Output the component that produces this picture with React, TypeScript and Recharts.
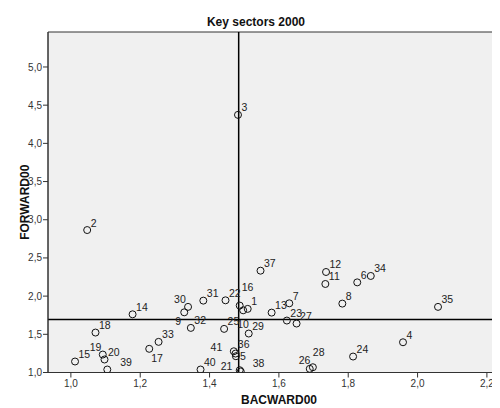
import {
  ScatterChart,
  Scatter,
  XAxis,
  YAxis,
  ReferenceLine,
  ReferenceArea,
  Label,
} from "recharts";

// sector numbers and their linkage indices
const sectors = [
  1, 2, 3, 4, 5, 6, 7, 8, 9, 10, 11, 12, 13, 14, 15, 16, 17, 18, 19, 20, 21,
  22, 23, 24, 25, 26, 27, 28, 29, 30, 31, 32, 33, 34, 35, 36, 37, 38, 39, 40, 41,
];
const backward = [
  1.51, 1.047, 1.482, 1.958, 1.476, 1.826, 1.63, 1.783, 1.327, 1.497, 1.734,
  1.736, 1.579, 1.178, 1.012, 1.487, 1.226, 1.071, 1.092, 1.097, 1.487, 1.446,
  1.623, 1.814, 1.442, 1.689, 1.651, 1.698, 1.513, 1.338, 1.382, 1.346, 1.253,
  1.865, 2.059, 1.47, 1.547, 1.49, 1.105, 1.374, 1.475,
];
const forward = [
  1.833, 2.865, 4.373, 1.396, 1.213, 2.18, 1.906, 1.902, 1.788, 1.814, 2.159,
  2.316, 1.784, 1.762, 1.144, 1.876, 1.31, 1.523, 1.235, 1.17, 1.03, 1.945,
  1.68, 1.209, 1.571, 1.048, 1.641, 1.069, 1.51, 1.859, 1.941, 1.584, 1.401,
  2.264, 1.859, 1.278, 2.333, 1.013, 1.039, 1.039, 1.248,
];
const meanBackward = 1.484;
const meanForward = 1.693;
const xTicks = [1.0, 1.2, 1.4, 1.6, 1.8, 2.0, 2.2];
const yTicks = [1.0, 1.5, 2.0, 2.5, 3.0, 3.5, 4.0, 4.5, 5.0];

const X_MIN = 0.934;
const X_MAX = 2.232;
const Y_MIN = 1.0;
const Y_MAX = 5.458;

// where a point's number sits when it is not up and to the right
const labelShift: Record<number, [number, number]> = {
  30: [-14, -4],
  9: [-9, 13],
  16: [2, -15],
  10: [-6, 18],
  41: [-25, -3],
  5: [4, 4],
  36: [4, -3],
  21: [-19, 0],
  38: [12, -5],
  26: [-11, -5],
  28: [0, -11],
  17: [2, 13],
  39: [13, -4],
  19: [-13, -4],
};

const points = sectors.map((id, i) => ({
  id,
  x: backward[i],
  y: forward[i],
}));

const FONT = "Arial, 'Liberation Sans', sans-serif";
const comma = (v: number) => v.toFixed(1).replace(".", ",");

function Dot(props: any) {
  const { cx, cy, payload } = props;
  const [dx, dy] = labelShift[payload.id] ?? [3.5, -3.5];
  return (
    <g>
      <circle cx={cx} cy={cy} r={3.5} fill="none" stroke="#111" strokeWidth={1} />
      <text
        x={cx + dx}
        y={cy + dy}
        fontSize={10.5}
        fontFamily={FONT}
        fill="#222"
      >
        {payload.id}
      </text>
    </g>
  );
}

export default function App() {
  return (
    <div style={{ position: "relative", width: 492, height: 400 }}>
      <div
        style={{
          position: "absolute",
          left: 0,
          width: 496,
          top: 7,
          textAlign: "center",
          fontFamily: FONT,
          fontWeight: "bold",
          fontSize: 12,
          color: "#111",
        }}
      >
        Key sectors 2000
      </div>
      <ScatterChart
        width={492}
        height={400}
        margin={{ top: 24, right: 2, left: 0, bottom: 0 }}
      >
        <ReferenceArea
          x1={X_MIN}
          x2={X_MAX}
          y1={Y_MIN}
          y2={Y_MAX}
          fill="#f0f0f0"
          fillOpacity={1}
          stroke="#333"
          strokeWidth={1}
        />
        <XAxis
          type="number"
          dataKey="x"
          domain={[X_MIN, X_MAX]}
          ticks={xTicks}
          allowDataOverflow
          height={35.5}
          tickSize={5}
          tickMargin={2}
          tickFormatter={comma}
          tick={{ fontSize: 10, fontFamily: FONT, fill: "#333" }}
          stroke="#333"
        >
          <Label
            content={({ viewBox }: any) => (
              <text
                x={viewBox.x + viewBox.width / 2 + 6}
                y={viewBox.y + viewBox.height - 4}
                textAnchor="middle"
                fontFamily={FONT}
                fontWeight="bold"
                fontSize={12}
                fill="#111"
              >
                BACWARD00
              </text>
            )}
          />
        </XAxis>
        <YAxis
          type="number"
          dataKey="y"
          domain={[Y_MIN, Y_MAX]}
          ticks={yTicks}
          allowDataOverflow
          width={40}
          tickSize={5}
          tickMargin={1}
          tickFormatter={comma}
          tick={{ fontSize: 10, fontFamily: FONT, fill: "#333" }}
          stroke="#333"
        >
          <Label
            content={({ viewBox }: any) => {
              const cx = 17;
              const cy = viewBox.y + viewBox.height / 2;
              return (
                <text
                  x={cx}
                  y={cy}
                  transform={`rotate(-90 ${cx} ${cy})`}
                  textAnchor="middle"
                  dominantBaseline="central"
                  fontFamily={FONT}
                  fontWeight="bold"
                  fontSize={12}
                  fill="#111"
                >
                  FORWARD00
                </text>
              );
            }}
          />
        </YAxis>
        <ReferenceLine x={meanBackward} stroke="#000" strokeWidth={1.5} />
        <ReferenceLine y={meanForward} stroke="#000" strokeWidth={1.5} />
        <Scatter data={points} shape={Dot} isAnimationActive={false} />
      </ScatterChart>
    </div>
  );
}
